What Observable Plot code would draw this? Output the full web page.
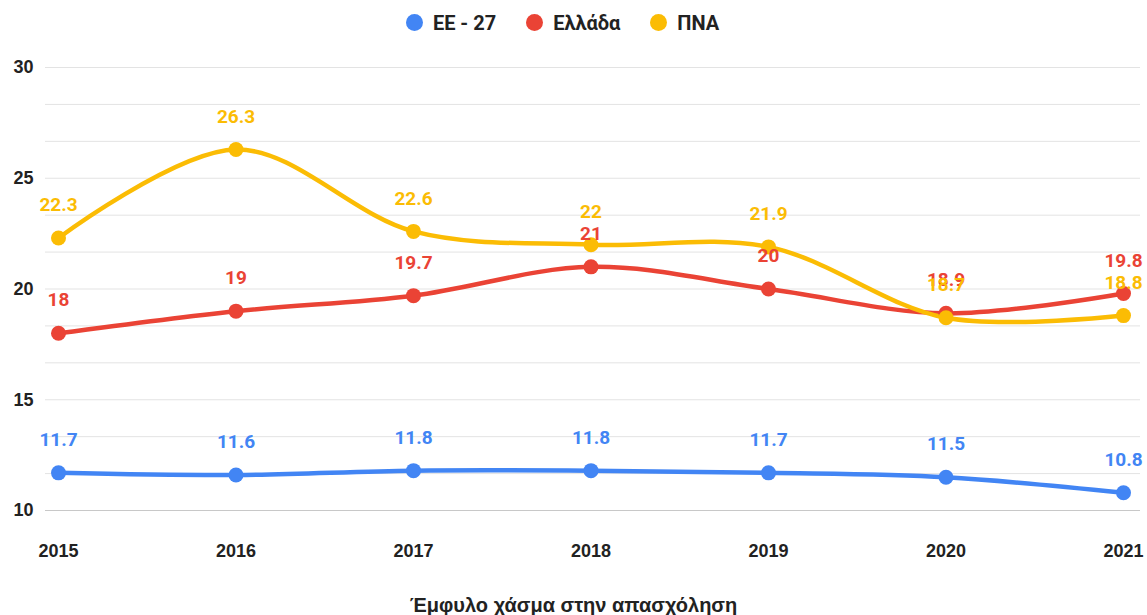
<!DOCTYPE html>
<html>
<head>
<meta charset="utf-8">
<script src="https://cdn.jsdelivr.net/npm/d3@7"></script>
<script src="https://cdn.jsdelivr.net/npm/@observablehq/plot@0.6"></script>
<style>
  body { margin: 0; background: #fff; }
  #wrap { width: 1147px; font-family: Roboto, "Liberation Sans", sans-serif; }
  #legend { height: 45px; display: flex; justify-content: center; align-items: center; gap: 30px; font: 700 20px Roboto, "Liberation Sans", sans-serif; color: #222; padding-right: 22px; box-sizing: border-box; }
  #legend .item { display: flex; align-items: center; gap: 10px; }
  #legend .dot { width: 17px; height: 17px; border-radius: 50%; display: inline-block; }
  #caption { text-align: center; font: 700 20px "Liberation Sans", Arial, sans-serif; color: #222; margin-top: 14px; }
  svg { display: block; }
</style>
</head>
<body>
<div id="wrap">
  <div id="legend"></div>
  <div id="chart"></div>
  <div id="caption">Έμφυλο χάσμα στην απασχόληση</div>
</div>
<script>
const years = [2015, 2016, 2017, 2018, 2019, 2020, 2021];
const seriesNames = ["ΕΕ - 27", "Ελλάδα", "ΠΝΑ"];
const seriesColors = ["#4285f4", "#ea4335", "#fbbc04"];
const eu27 = [11.7, 11.6, 11.8, 11.8, 11.7, 11.5, 10.8];
const greece = [18, 19, 19.7, 21, 20, 18.9, 19.8];
const pna = [22.3, 26.3, 22.6, 22, 21.9, 18.7, 18.8];
const yTicks = [10, 15, 20, 25, 30];
const yGrid = d3.range(0, 13).map(i => 10 + i * 5 / 3);

const allValues = [eu27, greece, pna];
const data = [];
seriesNames.forEach((s, si) => {
  years.forEach((y, i) => data.push({series: s, year: y, value: allValues[si][i]}));
});

const legend = document.getElementById("legend");
seriesNames.forEach((s, i) => {
  const it = document.createElement("span");
  it.className = "item";
  it.innerHTML = `<span class="dot" style="background:${seriesColors[i]}"></span><span>${s}</span>`;
  legend.appendChild(it);
});

const color = {domain: seriesNames, range: seriesColors};

const chart = Plot.plot({
  width: 1147,
  height: 535,
  marginTop: 22,
  marginBottom: 70,
  marginLeft: 45,
  marginRight: 7,
  x: {type: "linear", domain: [2015, 2021], insetLeft: 13, insetRight: 17},
  y: {domain: [10, 30]},
  color,
  style: {fontFamily: "'Liberation Sans', Arial, sans-serif"},
  marks: [
    Plot.ruleY(yGrid.filter(v => v > 10.01), {stroke: "#e3e3e3", strokeWidth: 1}),
    Plot.ruleY([10], {stroke: "#c8c8c8", strokeWidth: 1}),
    Plot.axisY(yTicks, {tickSize: 0, tickPadding: 12, fontSize: 18, fontWeight: 700, fill: "#222", label: null}),
    Plot.axisX(years, {tickSize: 0, tickPadding: 34, fontSize: 18, fontWeight: 700, fill: "#222", label: null, tickFormat: d => String(d)}),
    Plot.line(data, {x: "year", y: "value", z: "series", stroke: "series", strokeWidth: 4.5, curve: "catmull-rom"}),
    Plot.dot(data, {x: "year", y: "value", fill: "series", r: 7.5}),
    Plot.text(data, {x: "year", y: "value", text: d => String(d.value), fill: "series", dy: -33, fontSize: 19, fontWeight: 700, fontFamily: "Roboto, sans-serif"})
  ]
});
document.getElementById("chart").appendChild(chart);
</script>
</body>
</html>
